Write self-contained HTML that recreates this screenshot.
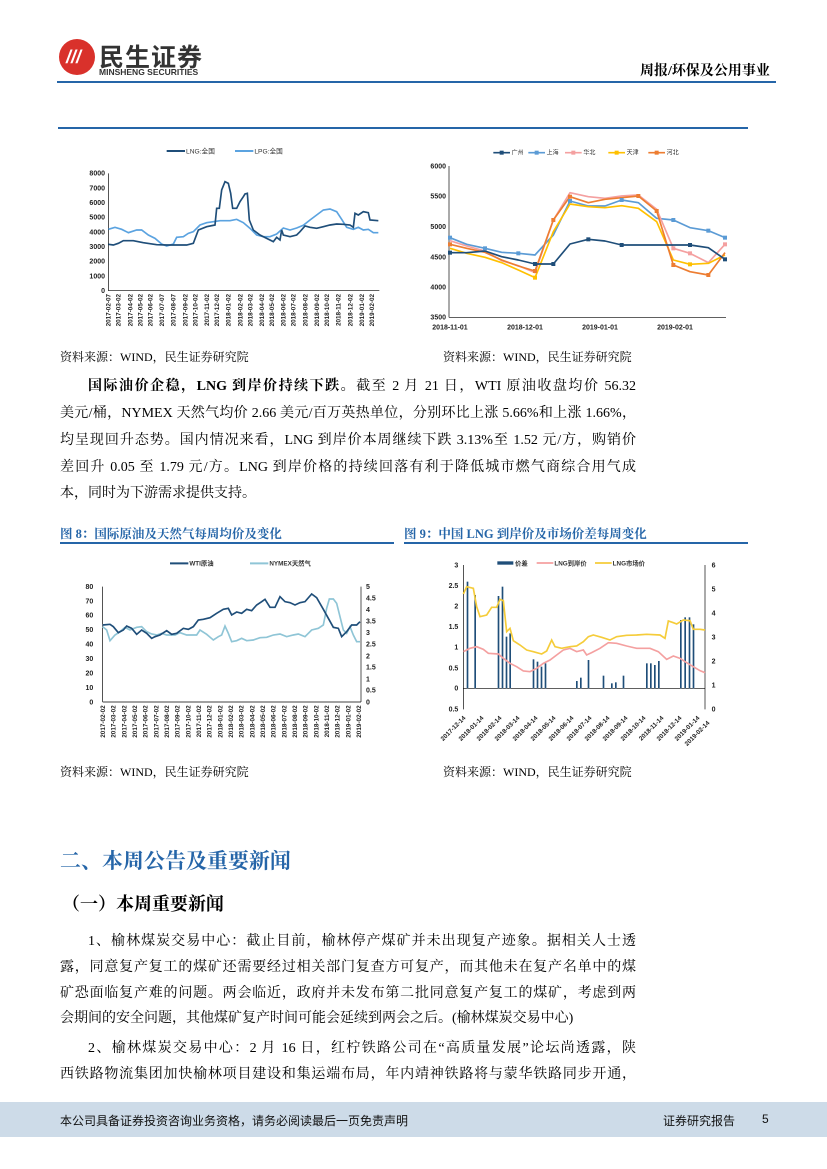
<!DOCTYPE html>
<html><head><meta charset="utf-8"><style>
body{margin:0;background:#fff;}
#p{position:relative;width:827px;height:1169px;overflow:hidden;font-family:"Liberation Serif","Noto Serif CJK SC",serif;color:#000;}
.a{position:absolute;white-space:nowrap;}
.src{font-size:12px;}
.l{position:absolute;left:60px;width:576px;font-size:14px;line-height:20px;height:20px;text-align:justify;text-align-last:justify;white-space:nowrap;}
.i{left:88px;width:548px;}
.n{text-align-last:auto;}
.ft{font-family:"Liberation Sans","Noto Sans CJK SC",sans-serif;}
svg text{font-family:"Liberation Sans","Noto Sans CJK SC",sans-serif;}
</style></head><body><div id="p">
<div class="a" style="left:59px;top:39px;width:36px;height:36px;border-radius:50%;background:#d9312b;"></div>
<div class="a" style="left:66px;top:47px;color:#fff;font:bold italic 18px 'Liberation Sans',sans-serif;">///</div>
<div class="a ft" style="left:99px;top:38px;font-size:25px;font-weight:bold;color:#333;letter-spacing:1px;">民生证券</div>
<div class="a ft" style="left:99px;top:67px;font-size:8.5px;font-weight:bold;color:#333;">MINSHENG SECURITIES</div>
<div class="a" style="left:640px;top:60px;font-size:14px;font-weight:bold;">周报/环保及公用事业</div>
<div class="a" style="left:57px;top:81px;width:719px;height:2px;background:#2565a8;"></div>
<div class="a" style="left:58px;top:127px;width:690px;height:1.5px;background:#2565a8;"></div>

<svg class="a" style="left:60px;top:140px" width="340" height="200" viewBox="0 0 1020 600">
<line x1="320" y1="33" x2="375" y2="33" stroke="#1f4e79" stroke-width="6"/><text x="378" y="40" font-size="20" fill="#333">LNG:全国</text>
<line x1="525" y1="33" x2="580" y2="33" stroke="#5ba3e0" stroke-width="6"/><text x="583" y="40" font-size="20" fill="#333">LPG:全国</text>
<g font-size="21" fill="#222" text-anchor="end" font-weight="bold">
<text x="135" y="107">8000</text><text x="135" y="151">7000</text><text x="135" y="195">6000</text><text x="135" y="239">5000</text><text x="135" y="283">4000</text><text x="135" y="327">3000</text><text x="135" y="371">2000</text><text x="135" y="415">1000</text><text x="135" y="459">0</text></g>
<line x1="145" y1="100" x2="145" y2="452" stroke="#000" stroke-width="2"/>
<line x1="145" y1="452" x2="958" y2="452" stroke="#000" stroke-width="2"/>
<polyline fill="none" stroke="#5ba3e0" stroke-width="5" points="145,268 165,262 185,268 205,278 230,270 245,270 265,285 285,295 305,312 320,318 340,312 350,292 370,290 385,280 400,275 420,255 440,248 460,245 480,242 510,242 530,238 550,248 570,265 590,285 610,290 630,290 650,282 670,264 690,270 710,264 730,256 750,240 770,225 790,210 810,207 830,215 845,238 860,262 880,268 895,262 910,270 925,268 940,278 955,278"/>
<polyline fill="none" stroke="#1f4e79" stroke-width="5" points="145,313 160,315 175,310 190,302 220,302 250,308 290,314 320,315 380,315 400,310 415,270 440,260 465,255 470,205 478,205 485,150 495,125 505,130 512,160 518,205 530,205 540,185 550,170 555,162 562,160 568,240 580,270 600,285 620,295 640,305 650,292 660,300 665,270 670,285 690,290 710,285 720,275 735,258 750,262 770,265 790,260 810,255 830,252 850,253 870,255 880,262 885,220 895,225 910,215 925,218 930,240 955,242"/>
<g font-size="19" fill="#222" font-weight="bold" text-anchor="end">
<text transform="translate(152,462) rotate(-90)">2017-02-07</text><text transform="translate(182,462) rotate(-90)">2017-03-02</text><text transform="translate(217,462) rotate(-90)">2017-04-02</text><text transform="translate(247,462) rotate(-90)">2017-05-02</text><text transform="translate(277,462) rotate(-90)">2017-06-02</text><text transform="translate(312,462) rotate(-90)">2017-07-07</text><text transform="translate(347,462) rotate(-90)">2017-08-07</text><text transform="translate(382,462) rotate(-90)">2017-09-02</text><text transform="translate(412,462) rotate(-90)">2017-10-02</text><text transform="translate(447,462) rotate(-90)">2017-11-02</text><text transform="translate(477,462) rotate(-90)">2017-12-02</text><text transform="translate(512,462) rotate(-90)">2018-01-02</text><text transform="translate(547,462) rotate(-90)">2018-02-02</text><text transform="translate(577,462) rotate(-90)">2018-03-02</text><text transform="translate(612,462) rotate(-90)">2018-04-02</text><text transform="translate(642,462) rotate(-90)">2018-05-02</text><text transform="translate(677,462) rotate(-90)">2018-06-02</text><text transform="translate(707,462) rotate(-90)">2018-07-02</text><text transform="translate(742,462) rotate(-90)">2018-08-02</text><text transform="translate(777,462) rotate(-90)">2018-09-02</text><text transform="translate(807,462) rotate(-90)">2018-10-02</text><text transform="translate(842,462) rotate(-90)">2018-11-02</text><text transform="translate(877,462) rotate(-90)">2018-12-02</text><text transform="translate(912,462) rotate(-90)">2019-01-02</text><text transform="translate(942,462) rotate(-90)">2019-02-02</text></g>
</svg>

<svg class="a" style="left:410px;top:140px" width="340" height="200" viewBox="0 0 1020 600">
<g font-size="18" fill="#333">
<line x1="250" y1="38" x2="300" y2="38" stroke="#1f4e79" stroke-width="5"/><rect x="269" y="32" width="12" height="12" fill="#1f4e79"/><text x="305" y="44">广州</text>
<line x1="355" y1="38" x2="405" y2="38" stroke="#5b9bd5" stroke-width="5"/><rect x="374" y="32" width="12" height="12" fill="#5b9bd5"/><text x="410" y="44">上海</text>
<line x1="465" y1="38" x2="515" y2="38" stroke="#f4a0a0" stroke-width="5"/><rect x="484" y="32" width="12" height="12" fill="#f4a0a0"/><text x="520" y="44">华北</text>
<line x1="595" y1="38" x2="645" y2="38" stroke="#ffc000" stroke-width="5"/><rect x="614" y="32" width="12" height="12" fill="#ffc000"/><text x="650" y="44">天津</text>
<line x1="715" y1="38" x2="765" y2="38" stroke="#ed7d31" stroke-width="5"/><rect x="734" y="32" width="12" height="12" fill="#ed7d31"/><text x="770" y="44">河北</text></g>
<g font-size="21" fill="#222" font-weight="bold" text-anchor="end">
<text x="108" y="85">6000</text><text x="108" y="176">5500</text><text x="108" y="267">5000</text><text x="108" y="358">4500</text><text x="108" y="449">4000</text><text x="108" y="539">3500</text></g>
<line x1="117" y1="78" x2="117" y2="532" stroke="#000" stroke-width="2"/>
<line x1="117" y1="532" x2="948" y2="532" stroke="#000" stroke-width="2"/>
<g font-size="21" fill="#222" font-weight="bold" text-anchor="middle">
<text x="120" y="568">2018-11-01</text><text x="345" y="568">2018-12-01</text><text x="570" y="568">2019-01-01</text><text x="795" y="568">2019-02-01</text></g>
<g fill="none" stroke-width="5" stroke-linejoin="round">
<polyline stroke="#5b9bd5" points="120,293 170,313 225,325 275,337 325,340 375,345 430,285 480,183 535,198 585,198 635,180 685,188 740,235 790,240 840,263 895,272 945,293"/>
<polyline stroke="#f4a0a0" points="120,302 170,318 225,333 275,362 325,377 375,398 430,240 480,158 535,170 585,175 635,168 685,165 740,208 790,325 840,340 895,368 945,313"/>
<polyline stroke="#ffc000" points="120,325 170,340 225,352 275,368 325,390 375,413 430,275 480,192 535,200 585,203 635,197 685,205 740,245 790,360 840,373 895,370 945,345"/>
<polyline stroke="#ed7d31" points="120,313 170,325 225,337 275,360 325,378 375,393 430,240 480,170 535,188 585,178 635,173 685,168 740,213 790,375 840,395 895,405 945,338"/>
<polyline stroke="#1f4e79" points="120,338 170,338 225,333 275,350 325,360 375,372 430,372 480,312 535,298 585,303 635,315 685,315 740,315 790,315 840,315 895,323 945,358"/></g>
<g>
<g fill="#5b9bd5"><rect x="114" y="287" width="12" height="12"/><rect x="219" y="319" width="12" height="12"/><rect x="319" y="334" width="12" height="12"/><rect x="474" y="177" width="12" height="12"/><rect x="629" y="174" width="12" height="12"/><rect x="784" y="234" width="12" height="12"/><rect x="889" y="266" width="12" height="12"/><rect x="939" y="287" width="12" height="12"/></g>
<g fill="#f4a0a0"><rect x="784" y="319" width="12" height="12"/><rect x="834" y="334" width="12" height="12"/><rect x="939" y="307" width="12" height="12"/></g>
<g fill="#ffc000"><rect x="369" y="407" width="12" height="12"/><rect x="834" y="367" width="12" height="12"/></g>
<g fill="#ed7d31"><rect x="114" y="307" width="12" height="12"/><rect x="424" y="234" width="12" height="12"/><rect x="474" y="164" width="12" height="12"/><rect x="679" y="162" width="12" height="12"/><rect x="734" y="207" width="12" height="12"/><rect x="784" y="369" width="12" height="12"/><rect x="889" y="399" width="12" height="12"/><rect x="369" y="387" width="12" height="12"/></g>
<g fill="#1f4e79"><rect x="114" y="332" width="12" height="12"/><rect x="369" y="366" width="12" height="12"/><rect x="424" y="366" width="12" height="12"/><rect x="529" y="292" width="12" height="12"/><rect x="629" y="309" width="12" height="12"/><rect x="834" y="309" width="12" height="12"/><rect x="939" y="352" width="12" height="12"/></g></g>
</svg>

<div class="a src" style="left:60px;top:348px;">资料来源：WIND，民生证券研究院</div>
<div class="a src" style="left:443px;top:348px;">资料来源：WIND，民生证券研究院</div>

<div class="l i" style="top:377px;"><b>国际油价企稳，LNG 到岸价持续下跌。</b>截至 2 月 21 日，WTI 原油收盘均价 56.32</div>
<div class="l" style="top:404px;">美元/桶，NYMEX 天然气均价 2.66 美元/百万英热单位，分别环比上涨 5.66%和上涨 1.66%，</div>
<div class="l" style="top:431px;">均呈现回升态势。国内情况来看，LNG 到岸价本周继续下跌 3.13%至 1.52 元/方，购销价</div>
<div class="l" style="top:458px;">差回升 0.05 至 1.79 元/方。LNG 到岸价格的持续回落有利于降低城市燃气商综合用气成</div>
<div class="l n" style="top:484px;">本，同时为下游需求提供支持。</div>

<div class="a" style="left:60px;top:524px;font-size:12.5px;font-weight:bold;color:#2565a8;">图 8：国际原油及天然气每周均价及变化</div>
<div class="a" style="left:404px;top:524px;font-size:12.5px;font-weight:bold;color:#2565a8;">图 9：中国 LNG 到岸价及市场价差每周变化</div>
<div class="a" style="left:60px;top:542px;width:334px;height:1.5px;background:#2565a8;"></div>
<div class="a" style="left:404px;top:542px;width:344px;height:1.5px;background:#2565a8;"></div>

<svg class="a" style="left:60px;top:520px" width="340" height="230" viewBox="0 0 1020 690">
<line x1="330" y1="130" x2="385" y2="130" stroke="#1f4e79" stroke-width="6"/><text x="388" y="137" font-size="19" fill="#333" font-weight="bold">WTI原油</text>
<line x1="570" y1="130" x2="625" y2="130" stroke="#8fc5d6" stroke-width="6"/><text x="628" y="137" font-size="19" fill="#333" font-weight="bold">NYMEX天然气</text>
<g font-size="21" fill="#222" font-weight="bold" text-anchor="end">
<text x="100" y="207">80</text><text x="100" y="250">70</text><text x="100" y="293">60</text><text x="100" y="336">50</text><text x="100" y="380">40</text><text x="100" y="423">30</text><text x="100" y="466">20</text><text x="100" y="510">10</text><text x="100" y="553">0</text></g>
<g font-size="21" fill="#222" font-weight="bold">
<text x="918" y="207">5</text><text x="918" y="242">4.5</text><text x="918" y="276">4</text><text x="918" y="311">3.5</text><text x="918" y="345">3</text><text x="918" y="380">2.5</text><text x="918" y="415">2</text><text x="918" y="449">1.5</text><text x="918" y="484">1</text><text x="918" y="518">0.5</text><text x="918" y="553">0</text></g>
<line x1="128" y1="200" x2="128" y2="546" stroke="#000" stroke-width="2"/>
<line x1="903" y1="200" x2="903" y2="546" stroke="#000" stroke-width="2"/>
<line x1="128" y1="546" x2="903" y2="546" stroke="#000" stroke-width="2"/>
<polyline fill="none" stroke="#8fc5d6" stroke-width="5" points="128,320 140,330 150,362 165,345 180,335 195,322 210,330 230,322 245,320 260,335 275,342 290,345 305,340 320,345 345,345 360,338 380,345 395,345 410,345 420,330 440,343 460,360 475,350 485,345 495,318 505,340 515,365 530,362 545,355 560,362 580,360 600,353 620,352 640,345 660,342 680,350 700,345 715,342 735,350 755,330 775,325 790,315 800,265 808,237 820,237 830,250 840,290 850,330 860,340 870,320 880,345 890,365 900,365"/>
<polyline fill="none" stroke="#1f4e79" stroke-width="5" points="128,315 150,313 160,320 175,338 190,330 200,318 215,325 230,343 245,330 260,340 275,355 285,350 300,345 320,332 335,343 350,340 370,325 385,328 400,320 415,300 430,298 450,293 470,280 490,268 505,265 515,285 530,276 545,280 560,268 575,272 590,255 605,245 615,238 630,262 645,262 660,230 675,245 690,248 705,255 720,248 735,245 755,222 770,233 790,268 805,295 820,322 835,325 845,350 860,335 875,315 890,315 900,305"/>
<g font-size="19" fill="#222" font-weight="bold" text-anchor="end">
<text transform="translate(135,556) rotate(-90)">2017-02-02</text><text transform="translate(167,556) rotate(-90)">2017-03-02</text><text transform="translate(199,556) rotate(-90)">2017-04-02</text><text transform="translate(231,556) rotate(-90)">2017-05-02</text><text transform="translate(263,556) rotate(-90)">2017-06-02</text><text transform="translate(295,556) rotate(-90)">2017-07-02</text><text transform="translate(327,556) rotate(-90)">2017-08-02</text><text transform="translate(359,556) rotate(-90)">2017-09-02</text><text transform="translate(391,556) rotate(-90)">2017-10-02</text><text transform="translate(423,556) rotate(-90)">2017-11-02</text><text transform="translate(455,556) rotate(-90)">2017-12-02</text><text transform="translate(487,556) rotate(-90)">2018-01-02</text><text transform="translate(519,556) rotate(-90)">2018-02-02</text><text transform="translate(551,556) rotate(-90)">2018-03-02</text><text transform="translate(583,556) rotate(-90)">2018-04-02</text><text transform="translate(615,556) rotate(-90)">2018-05-02</text><text transform="translate(647,556) rotate(-90)">2018-06-02</text><text transform="translate(679,556) rotate(-90)">2018-07-02</text><text transform="translate(711,556) rotate(-90)">2018-08-02</text><text transform="translate(743,556) rotate(-90)">2018-09-02</text><text transform="translate(775,556) rotate(-90)">2018-10-02</text><text transform="translate(807,556) rotate(-90)">2018-11-02</text><text transform="translate(839,556) rotate(-90)">2018-12-02</text><text transform="translate(871,556) rotate(-90)">2019-01-02</text><text transform="translate(903,556) rotate(-90)">2019-02-02</text></g>
</svg>

<svg class="a" style="left:410px;top:520px" width="340" height="230" viewBox="0 0 1020 690">
<rect x="262" y="124" width="48" height="10" fill="#1f4e79"/><text x="315" y="136" font-size="19" fill="#333" font-weight="bold">价差</text>
<line x1="380" y1="129" x2="430" y2="129" stroke="#f4a0a0" stroke-width="5"/><text x="433" y="136" font-size="19" fill="#333" font-weight="bold">LNG到岸价</text>
<line x1="555" y1="129" x2="605" y2="129" stroke="#f5cc3a" stroke-width="5"/><text x="608" y="136" font-size="19" fill="#333" font-weight="bold">LNG市场价</text>
<g font-size="21" fill="#222" font-weight="bold" text-anchor="end">
<text x="145" y="142">3</text><text x="145" y="204">2.5</text><text x="145" y="266">2</text><text x="145" y="327">1.5</text><text x="145" y="389">1</text><text x="145" y="451">0.5</text><text x="145" y="512">0</text><text x="145" y="574">0.5</text></g>
<g font-size="21" fill="#222" font-weight="bold">
<text x="905" y="142">6</text><text x="905" y="214">5</text><text x="905" y="286">4</text><text x="905" y="358">3</text><text x="905" y="430">2</text><text x="905" y="503">1</text><text x="905" y="575">0</text></g>
<line x1="160" y1="135" x2="160" y2="568" stroke="#000" stroke-width="2"/>
<line x1="885" y1="135" x2="885" y2="568" stroke="#000" stroke-width="2"/>
<line x1="160" y1="505" x2="885" y2="505" stroke="#000" stroke-width="2"/>
<g fill="#1f4e79">
<rect x="170" y="185" width="5" height="320"/><rect x="193" y="225" width="5" height="280"/><rect x="263" y="228" width="5" height="277"/><rect x="275" y="200" width="5" height="305"/><rect x="287" y="350" width="5" height="155"/><rect x="298" y="340" width="5" height="165"/><rect x="368" y="418" width="5" height="87"/><rect x="380" y="425" width="5" height="80"/><rect x="392" y="440" width="5" height="65"/><rect x="404" y="430" width="5" height="75"/><rect x="498" y="483" width="5" height="22"/><rect x="510" y="473" width="5" height="32"/><rect x="533" y="420" width="5" height="85"/><rect x="578" y="467" width="5" height="38"/><rect x="603" y="490" width="5" height="15"/><rect x="615" y="487" width="5" height="18"/><rect x="638" y="467" width="5" height="38"/><rect x="708" y="430" width="5" height="75"/><rect x="720" y="430" width="5" height="75"/><rect x="732" y="435" width="5" height="70"/><rect x="744" y="423" width="5" height="82"/><rect x="810" y="300" width="5" height="205"/><rect x="823" y="292" width="5" height="213"/><rect x="836" y="292" width="5" height="213"/><rect x="848" y="313" width="5" height="192"/></g>
<polyline fill="none" stroke="#f4a0a0" stroke-width="5" points="160,395 180,385 200,380 220,388 235,400 265,402 280,415 300,430 320,440 340,453 360,455 380,445 400,430 420,420 440,405 460,390 480,385 500,395 520,390 530,405 545,398 570,385 595,368 620,370 650,378 680,385 720,385 745,395 770,418 790,408 810,415 830,428 850,440 870,452 885,458"/>
<polyline fill="none" stroke="#f5cc3a" stroke-width="5" points="160,222 170,200 190,205 200,260 210,290 230,285 245,262 260,262 270,238 280,242 290,335 300,325 310,362 330,375 350,390 370,395 395,402 410,393 425,360 435,380 455,385 480,380 500,378 520,365 535,350 550,345 575,352 600,360 620,350 650,346 680,345 710,343 750,345 765,355 775,303 790,308 800,312 820,300 840,302 850,328 870,328 885,330"/>
<g font-size="19" fill="#222" font-weight="bold" text-anchor="end">
<text transform="translate(168,595) rotate(-45)">2017-12-14</text><text transform="translate(222,595) rotate(-45)">2018-01-14</text><text transform="translate(276,595) rotate(-45)">2018-02-14</text><text transform="translate(330,595) rotate(-45)">2018-03-14</text><text transform="translate(384,595) rotate(-45)">2018-04-14</text><text transform="translate(438,595) rotate(-45)">2018-05-14</text><text transform="translate(492,595) rotate(-45)">2018-06-14</text><text transform="translate(546,595) rotate(-45)">2018-07-14</text><text transform="translate(600,595) rotate(-45)">2018-08-14</text><text transform="translate(654,595) rotate(-45)">2018-09-14</text><text transform="translate(708,595) rotate(-45)">2018-10-14</text><text transform="translate(762,595) rotate(-45)">2018-11-14</text><text transform="translate(816,595) rotate(-45)">2018-12-14</text><text transform="translate(870,595) rotate(-45)">2019-01-14</text><text transform="translate(900,610) rotate(-45)">2019-02-14</text></g>
</svg>

<div class="a src" style="left:60px;top:763px;">资料来源：WIND，民生证券研究院</div>
<div class="a src" style="left:443px;top:763px;">资料来源：WIND，民生证券研究院</div>

<div class="a" style="left:60px;top:845px;font-size:21px;font-weight:bold;color:#2565a8;">二、本周公告及重要新闻</div>
<div class="a" style="left:62px;top:890px;font-size:18px;font-weight:bold;">（一）本周重要新闻</div>

<div class="l i" style="top:932px;">1、榆林煤炭交易中心：截止目前，榆林停产煤矿并未出现复产迹象。据相关人士透</div>
<div class="l" style="top:958px;">露，同意复产复工的煤矿还需要经过相关部门复查方可复产，而其他未在复产名单中的煤</div>
<div class="l" style="top:984px;">矿恐面临复产难的问题。两会临近，政府并未发布第二批同意复产复工的煤矿，考虑到两</div>
<div class="l n" style="top:1009px;">会期间的安全问题，其他煤矿复产时间可能会延续到两会之后。(榆林煤炭交易中心)</div>
<div class="l i" style="top:1039px;">2、榆林煤炭交易中心：2 月 16 日，红柠铁路公司在“高质量发展”论坛尚透露，陕</div>
<div class="l" style="top:1065px;">西铁路物流集团加快榆林项目建设和集运端布局，年内靖神铁路将与蒙华铁路同步开通，</div>

<div class="a" style="left:0;top:1102px;width:827px;height:35px;background:#cddbe8;"></div>
<div class="a ft" style="left:60px;top:1112px;font-size:12px;color:#111;">本公司具备证券投资咨询业务资格，请务必阅读最后一页免责声明</div>
<div class="a ft" style="left:663px;top:1112px;font-size:12px;color:#111;">证券研究报告</div>
<div class="a ft" style="left:762px;top:1112px;font-size:12px;color:#111;">5</div>
</div></body></html>
